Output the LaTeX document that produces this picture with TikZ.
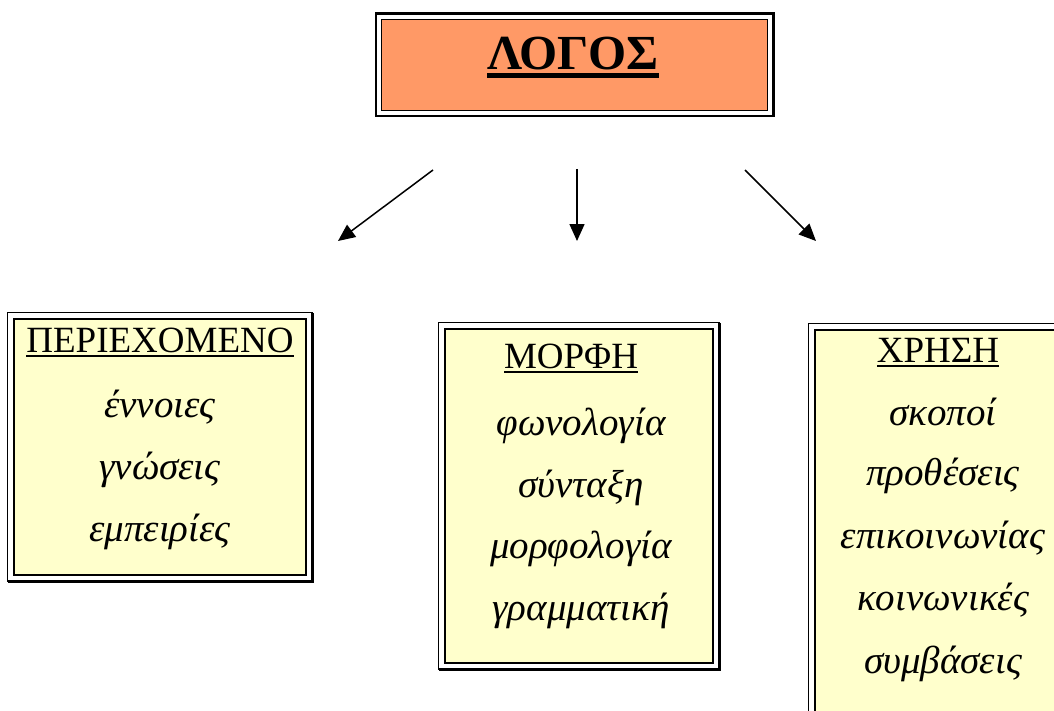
\documentclass[tikz,border=0pt]{standalone}
\usepackage{fontspec}
\setmainfont{Liberation Serif}
\usetikzlibrary{arrows.meta}

\definecolor{logosorange}{HTML}{FF9966}
\definecolor{boxyellow}{HTML}{FFFFCC}

% underlined text: drop, thickness, text
\newsavebox{\ulsave}
\newcommand{\ultext}[3]{\sbox\ulsave{#3}\rlap{\rule[-#1]{\wd\ulsave}{#2}}\usebox\ulsave}

\tikzset{
    titlebox/.style={draw, line width=1.3bp, fill=logosorange, inner sep=0pt},
    notebox/.style={draw, line width=2.4bp, fill=boxyellow, inner sep=0pt},
    head/.style={font=\fontsize{37bp}{40bp}\selectfont, inner sep=0pt, anchor=base},
    item/.style={font=\fontsize{39bp}{40bp}\selectfont\itshape, inner sep=0pt, anchor=base},
    branch/.style={line width=1.5bp, -{Triangle[length=17bp,width=15bp]}}
}

\begin{document}
\begin{tikzpicture}[x=1bp, y=-1bp]
    \clip (0,0) rectangle (1054,711);
    \fill[white] (0,0) rectangle (1054,711);

    % boxes
    \node[titlebox, minimum width=386bp, minimum height=91bp] (logos) at (574.5,65) {};
    \node[notebox, minimum width=292bp, minimum height=256bp] (periex) at (160,447) {};
    \node[notebox, minimum width=268bp, minimum height=334bp] (morfi) at (579,496) {};
    \node[notebox, minimum width=255bp, minimum height=400bp] (xrisi) at (942.5,530) {};

    % outer frames
    \foreach \b/\w in {logos/2.7bp, periex/1bp, morfi/1bp, xrisi/1bp}
        \draw[line width=\w] ([shift={(-5bp,5bp)}]\b.north west) rectangle ([shift={(5bp,-5bp)}]\b.south east);
    \foreach \b in {periex, morfi, xrisi}
        \draw[line width=3bp] ([shift={(5bp,5bp)}]\b.north east) -- ([shift={(5bp,-5bp)}]\b.south east) -- ([shift={(-5bp,-5bp)}]\b.south west);

    % title
    \node[font=\fontsize{49bp}{60bp}\selectfont\bfseries, inner sep=0pt, anchor=base] (logos-t) at (573,70) {\ultext{7.7bp}{4.3bp}{ΛΟΓΟΣ}};

    % arrows
    \coordinate (from-l) at (433,170);
    \coordinate (to-l) at (338,241);
    \coordinate (from-m) at (577,169);
    \coordinate (to-m) at (577,241);
    \coordinate (from-r) at (745,170);
    \coordinate (to-r) at (816,241);
    \draw[branch] (from-l) -- (to-l);
    \draw[branch] (from-m) -- (to-m);
    \draw[branch] (from-r) -- (to-r);

    % ΠΕΡΙΕΧΟΜΕΝΟ
    \node[head] (periex-t) at (160,352) {\ultext{5bp}{2bp}{ΠΕΡΙΕΧΟΜΕΝΟ}};
    \foreach \w/\y [count=\i] in {έννοιες/417, γνώσεις/479, εμπειρίες/541}
        \node[item] (periex-\i) at (160,\y) {\w};

    % ΜΟΡΦΗ
    \node[head] (morfi-t) at (571,368) {\ultext{5bp}{2bp}{ΜΟΡΦΗ}};
    \foreach \w/\y [count=\i] in {φωνολογία/435, σύνταξη/497, μορφολογία/558, γραμματική/620}
        \node[item] (morfi-\i) at (581,\y) {\w};

    % ΧΡΗΣΗ
    \node[head] (xrisi-t) at (938,362) {\ultext{5bp}{2bp}{ΧΡΗΣΗ}};
    \foreach \w/\y [count=\i] in {σκοποί/425, προθέσεις/485, επικοινωνίας/548, κοινωνικές/610, συμβάσεις/673}
        \node[item] (xrisi-\i) at (943,\y) {\w};
\end{tikzpicture}
\end{document}
